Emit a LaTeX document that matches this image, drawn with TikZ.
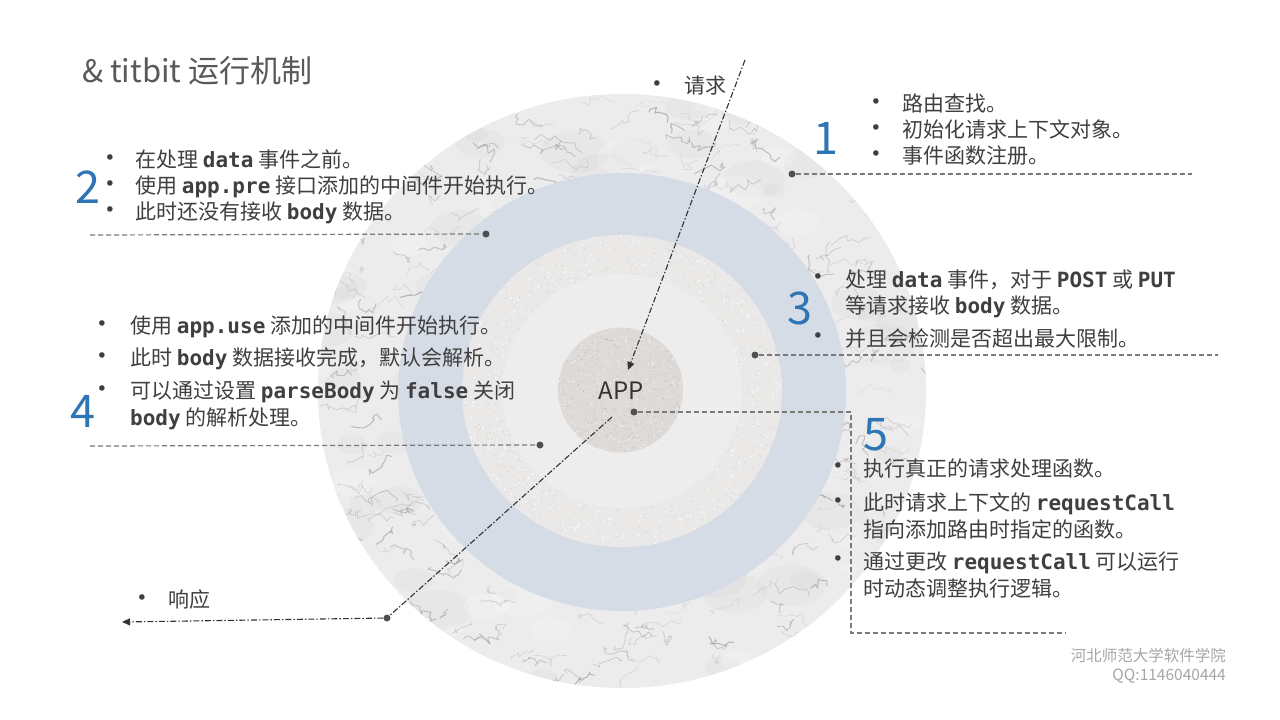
\documentclass[tikz,border=0pt]{standalone}
\usepackage{fontspec}
\setmainfont{Noto Sans CJK SC}
\newfontfamily\codefont{DejaVu Sans Mono}
\newfontfamily\bulfont{DejaVu Sans}
\usetikzlibrary{arrows.meta}
\definecolor{txtc}{HTML}{3F3F3F}
\definecolor{titlec}{HTML}{595959}
\definecolor{numblue}{HTML}{2E75B6}
\definecolor{dotgray}{HTML}{505050}
\definecolor{dashc}{HTML}{7A7A7A}
\definecolor{arrc}{HTML}{333333}
\definecolor{marblec}{HTML}{ECECED}
\definecolor{veinc}{HTML}{74747A}
\definecolor{bluering}{HTML}{D6DCE5}
\definecolor{granitec}{HTML}{EAE9E8}
\definecolor{innerc}{HTML}{EDEDED}
\definecolor{appc}{HTML}{DDDAD7}
\definecolor{footc}{HTML}{A6A6A6}
\newcommand\cw[1]{{\codefont\bfseries #1}}
\tikzset{
  bodytext/.style={anchor=base west, inner sep=0pt, text=txtc, font=\fontsize{21}{25}\selectfont},
  bul/.style={anchor=center, inner sep=0pt, text=txtc, font=\bulfont\fontsize{19}{22}\selectfont},
  numtext/.style={anchor=center, inner sep=0pt, text=numblue, font=\fontsize{45}{50}\selectfont},
  dotnode/.style={circle, fill=dotgray, inner sep=0pt, minimum size=7pt},
  dashline/.style={draw=dashc, line width=1.2pt, dash pattern=on 5pt off 3pt},
  ddline/.style={draw=arrc, line width=1.1pt, dash pattern=on 6pt off 2pt on 1.5pt off 2pt},
}
\begin{document}
\begin{tikzpicture}[x=1pt,y=-1pt]
\useasboundingbox (0,0) rectangle (1280,720);
\fill[white] (0,0) rectangle (1280,720);

% ---------- outer marble ring ----------
\begin{scope}
  \clip (622,391) ellipse [x radius=304pt, y radius=297pt];
  \fill[marblec] (310,85) rectangle (935,700);
  \pgfmathsetseed{11}
  \foreach \i in {1,...,90}{
    \pgfmathsetmacro\px{315+rnd*620}
    \pgfmathsetmacro\py{85+rnd*615}
    \pgfmathsetmacro\rx{10+rnd*25}
    \fill[gray, opacity=0.04] (\px,\py) ellipse [x radius=\rx pt, y radius=0.6*\rx pt];
  }
  \foreach \i in {1,...,60}{
    \pgfmathsetmacro\px{315+rnd*620}
    \pgfmathsetmacro\py{85+rnd*615}
    \pgfmathsetmacro\rx{8+rnd*22}
    \fill[white, opacity=0.2] (\px,\py) ellipse [x radius=\rx pt, y radius=0.6*\rx pt];
  }
  \foreach \i in {1,...,460}{
    \pgfmathsetmacro\px{315+rnd*620}
    \pgfmathsetmacro\py{85+rnd*615}
    \pgfmathsetmacro\lw{0.3+rnd*0.9}
    \pgfmathsetmacro\op{0.12+rnd*0.33}
    \draw[veinc, line width=\lw pt, opacity=\op, line join=round, line cap=round]
      (\px,\py) -- ++({rnd*12-3},{rnd*12-6}) -- ++({rnd*12-3},{rnd*12-6})
      -- ++({rnd*12-3},{rnd*12-6}) -- ++({rnd*12-3},{rnd*12-6})
      -- ++({rnd*12-3},{rnd*12-6}) -- ++({rnd*12-3},{rnd*12-6})
      -- ++({rnd*12-3},{rnd*12-6}) -- ++({rnd*12-3},{rnd*12-6});
  }
\end{scope}

% ---------- blue ring ----------
\fill[bluering] (622,392) ellipse [x radius=224pt, y radius=219pt];

% ---------- granite ring ----------
\begin{scope}
  \clip (622,391) ellipse [x radius=160pt, y radius=156pt];
  \fill[granitec] (455,230) rectangle (790,552);
  \pgfmathsetseed{5}
  \foreach \i in {1,...,1500}{
    \fill[black!50, opacity=0.22] ({460+rnd*325},{233+rnd*318}) circle[radius=0.6pt];
  }
  \foreach \i in {1,...,900}{
    \fill[white, opacity=0.9] ({460+rnd*325},{233+rnd*318}) circle[radius=0.9pt];
  }
\end{scope}
\fill[innerc] (622,391) ellipse [x radius=120pt, y radius=117pt];

% ---------- APP disk ----------
\begin{scope}
  \clip (620.5,390) circle[radius=62.5pt];
  \fill[appc] (555,325) rectangle (686,455);
  \pgfmathsetseed{3}
  \foreach \i in {1,...,450}{
    \fill[black!60, opacity=0.25] ({557+rnd*128},{327+rnd*126}) circle[radius=0.55pt];
  }
  \foreach \i in {1,...,300}{
    \fill[white, opacity=0.7] ({557+rnd*128},{327+rnd*126}) circle[radius=0.7pt];
  }
\end{scope}
\node[anchor=center, inner sep=0pt, text=arrc, font=\fontsize{24}{28}\selectfont] (app) at (621,391) {APP};

% ---------- title ----------
\node[anchor=base west, inner sep=0pt, text=titlec, font=\fontsize{31}{35}\selectfont] (title) at (82,82) {\& titbit 运行机制};

% ---------- section 1 ----------
\node[numtext] (n1) at (826,138) {1};
\node[bul] (b1a) at (876,104) {•};
\node[bul] (b1b) at (876,130) {•};
\node[bul] (b1c) at (876,156) {•};
\node[bodytext] (t1a) at (902,111) {路由查找。};
\node[bodytext] (t1b) at (902,137) {初始化请求上下文对象。};
\node[bodytext] (t1c) at (902,163) {事件函数注册。};
\node[dotnode] (d1) at (792,174) {};
\coordinate (e1) at (1192,174);
\draw[dashline] (d1) -- (e1);

% ---------- section 2 ----------
\node[numtext] (n2) at (88,187) {2};
\node[bul] (b2a) at (110,160) {•};
\node[bul] (b2b) at (110,186) {•};
\node[bul] (b2c) at (110,212) {•};
\node[bodytext] (t2a) at (135,167) {在处理 \cw{data} 事件之前。};
\node[bodytext] (t2b) at (135,193) {使用 \cw{app.pre} 接口添加的中间件开始执行。};
\node[bodytext] (t2c) at (135,219) {此时还没有接收 \cw{body} 数据。};
\node[dotnode] (d2) at (486,234) {};
\coordinate (e2) at (90,235);
\draw[dashline] (e2) -- (d2);

% ---------- section 3 ----------
\node[numtext] (n3) at (800,308) {3};
\node[bul] (b3a) at (818,279) {•};
\node[bul] (b3b) at (818,338) {•};
\node[bodytext] (t3a) at (845,287) {处理 \cw{data} 事件，对于 \cw{POST} 或 \cw{PUT}};
\node[bodytext] (t3b) at (845,313) {等请求接收 \cw{body} 数据。};
\node[bodytext] (t3c) at (845,346) {并且会检测是否超出最大限制。};
\node[dotnode] (d3) at (755,355) {};
\coordinate (e3) at (1218,355);
\draw[dashline] (d3) -- (e3);

% ---------- section 4 ----------
\node[numtext] (n4) at (83,411) {4};
\node[bul] (b4a) at (102,326) {•};
\node[bul] (b4b) at (102,358) {•};
\node[bul] (b4c) at (102,391) {•};
\node[bodytext] (t4a) at (130,333) {使用 \cw{app.use} 添加的中间件开始执行。};
\node[bodytext] (t4b) at (130,365) {此时 \cw{body} 数据接收完成，默认会解析。};
\node[bodytext] (t4c) at (130,398) {可以通过设置 \cw{parseBody} 为 \cw{false} 关闭};
\node[bodytext] (t4d) at (130,425) {\cw{body} 的解析处理。};
\node[dotnode] (d4) at (540,445) {};
\coordinate (e4) at (90,446);
\draw[dashline] (e4) -- (d4);

% ---------- section 5 ----------
\node[numtext] (n5) at (876,435) {5};
\node[bul] (b5a) at (838,468) {•};
\node[bul] (b5b) at (838,503) {•};
\node[bul] (b5c) at (838,561) {•};
\node[bodytext] (t5a) at (863,476) {执行真正的请求处理函数。};
\node[bodytext] (t5b) at (863,510) {此时请求上下文的 \cw{requestCall}};
\node[bodytext] (t5c) at (863,537) {指向添加路由时指定的函数。};
\node[bodytext] (t5d) at (863,569) {通过更改 \cw{requestCall} 可以运行};
\node[bodytext] (t5e) at (863,596) {时动态调整执行逻辑。};
\node[dotnode] (d5) at (634,412) {};
\coordinate (c5a) at (851,412);
\coordinate (c5b) at (851,633);
\coordinate (c5c) at (1066,633);
\draw[dashline] (d5) -- (c5a) -- (c5b) -- (c5c);

% ---------- request / response ----------
\node[bul] (breq) at (657,86) {•};
\node[bodytext] (treq) at (684,93) {请求};
\coordinate (reqs) at (745,60);
\coordinate (reqe) at (628,370);
\draw[ddline, -{Triangle[length=8pt,width=7pt]}] (reqs) -- (reqe);

\node[bul] (bres) at (142,600) {•};
\node[bodytext] (tres) at (168,607) {响应};
\coordinate (ress) at (612,417);
\node[dotnode] (dres) at (387,618) {};
\coordinate (rese) at (122,622);
\draw[ddline] (ress) -- (dres);
\draw[ddline, -{Triangle[length=8pt,width=7pt]}] (dres) -- (rese);

% ---------- footer ----------
\node[anchor=base east, inner sep=0pt, text=footc, font=\fontsize{15.5}{18}\selectfont] (f1) at (1226,661) {河北师范大学软件学院};
\node[anchor=base east, inner sep=0pt, text=footc, font=\fontsize{15.5}{18}\selectfont] (f2) at (1226,680) {QQ:1146040444};
\end{tikzpicture}
\end{document}
